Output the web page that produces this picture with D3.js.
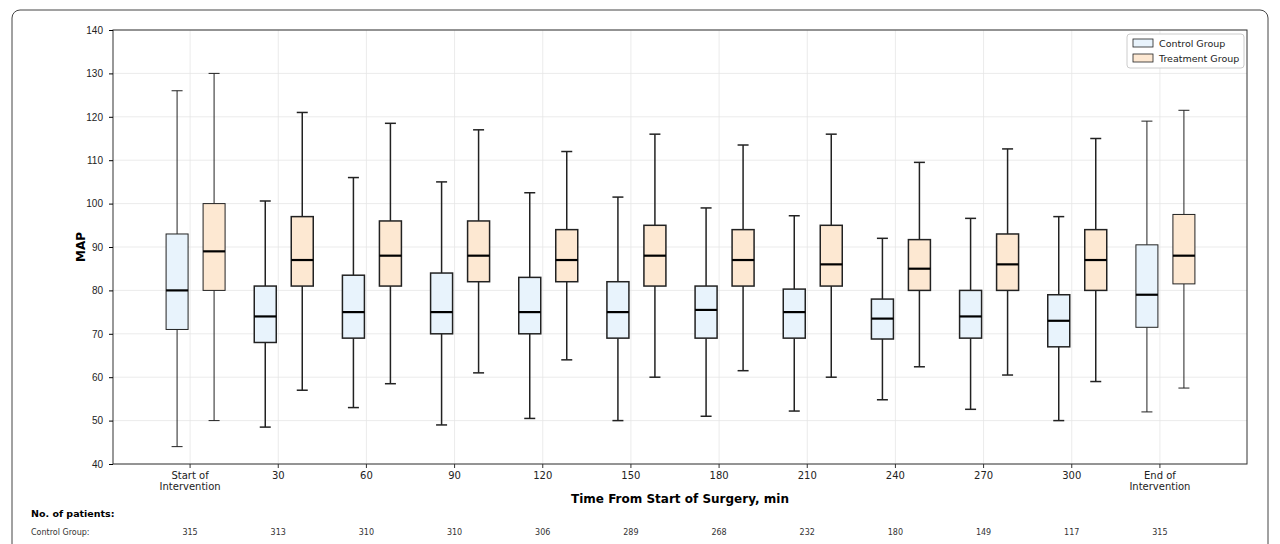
<!DOCTYPE html>
<html><head><meta charset="utf-8">
<script src="https://cdn.jsdelivr.net/npm/d3@7"></script>
<style>body{margin:0;background:#fff;font-family:"DejaVu Sans",sans-serif}</style>
</head><body><svg id="c" width="1280" height="544"></svg>
<script>
const categories = ['Start of\nIntervention','30','60','90','120','150','180','210','240','270','300','End of\nIntervention']
// [whiskerLow, q1, median, q3, whiskerHigh]
const control = [
  [44,71,80,93,126],[48.5,68,74,81,100.6],[53,69,75,83.5,106],[49,70,75,84,105],
  [50.5,70,75,83,102.5],[50,69,75,82,101.5],[51,69,75.5,81,99],[52.2,69,75,80.3,97.2],
  [54.8,68.8,73.5,78,92],[52.6,69,74,80,96.6],[50,67,73,79,97],[52,71.5,79,90.5,119]
]
const treatment = [
  [50,80,89,100,130],[57,81,87,97,121],[58.5,81,88,96,118.5],[61,82,88,96,117],
  [64,82,87,94,112],[60,81,88,95,116],[61.5,81,87,94,113.5],[60,81,86,95,116],
  [62.4,80,85,91.7,109.5],[60.5,80,86,93,112.6],[59,80,87,94,115],[57.5,81.5,88,97.5,121.5]
]
const patientsControl = [315,313,310,310,306,289,268,232,180,149,117,315]
const yTicks = [40,50,60,70,80,90,100,110,120,130,140]

const svg = d3.select('#c')
svg.append('rect').attr('x',12).attr('y',10).attr('width',1256).attr('height',560)
  .attr('rx',8).attr('fill','none').attr('stroke','#444').attr('stroke-width',1)

const L=113,R=1247,T=30,B=464
const x = d3.scaleBand().domain(d3.range(categories.length)).range([L+33,R-43]).paddingInner(0).paddingOuter(0)
const y = d3.scaleLinear().domain([40,140]).range([B,T])
const cx = i => x(i)+x.bandwidth()/2

const g = svg.append('g')
g.selectAll('.gy').data(yTicks).join('line').attr('x1',L).attr('x2',R)
  .attr('y1',d=>y(d)).attr('y2',d=>y(d)).attr('stroke','#e6e6e6').attr('stroke-width',0.8)
g.selectAll('.gx').data(categories).join('line').attr('y1',T).attr('y2',B)
  .attr('x1',(d,i)=>cx(i)).attr('x2',(d,i)=>cx(i)).attr('stroke','#e6e6e6').attr('stroke-width',0.8)

const bw = 22
function drawBoxes(data, dx, fill){
  data.forEach((d,i)=>{
    const c = cx(i)+dx, sw = (i===0||i===data.length-1)?1:1.5
    const s = g.append('g').attr('stroke','#222').attr('stroke-width',sw)
    s.append('line').attr('x1',c).attr('x2',c).attr('y1',y(d[0])).attr('y2',y(d[1]))
    s.append('line').attr('x1',c).attr('x2',c).attr('y1',y(d[3])).attr('y2',y(d[4]))
    s.append('line').attr('x1',c-bw/4).attr('x2',c+bw/4).attr('y1',y(d[0])).attr('y2',y(d[0]))
    s.append('line').attr('x1',c-bw/4).attr('x2',c+bw/4).attr('y1',y(d[4])).attr('y2',y(d[4]))
    s.append('rect').attr('x',c-bw/2).attr('width',bw).attr('y',y(d[3])).attr('height',y(d[1])-y(d[3])).attr('fill',fill)
    s.append('line').attr('x1',c-bw/2).attr('x2',c+bw/2).attr('y1',y(d[2])).attr('y2',y(d[2])).attr('stroke-width',2.2).attr('stroke','#000')
  })
}
drawBoxes(control,-13,'#e8f3fc')
drawBoxes(treatment,24,'#fde8d2')

g.append('rect').attr('x',L).attr('y',T).attr('width',R-L).attr('height',B-T).attr('fill','none').attr('stroke','#333').attr('stroke-width',1)

const ya = g.append('g').attr('transform',`translate(${L},0)`).call(d3.axisLeft(y).tickValues(yTicks).tickSize(4).tickPadding(6))
ya.select('.domain').remove()
ya.selectAll('text').attr('font-size',10).attr('fill','#222')
const xa = g.append('g')
categories.forEach((c,i)=>{
  xa.append('line').attr('x1',cx(i)).attr('x2',cx(i)).attr('y1',B).attr('y2',B+4).attr('stroke','#333')
  const t = xa.append('text').attr('x',cx(i)).attr('y',B+15).attr('text-anchor','middle').attr('font-size',10).attr('fill','#222')
  c.split('\n').forEach((ln,k)=>t.append('tspan').attr('x',cx(i)).attr('dy',k?11:0).text(ln))
})
svg.append('text').attr('x',(L+R)/2).attr('y',503).attr('text-anchor','middle').attr('font-size',12).attr('font-weight','bold').text('Time From Start of Surgery, min')
svg.append('text').attr('transform',`translate(85,${(T+B)/2}) rotate(-90)`).attr('text-anchor','middle').attr('font-size',12).attr('font-weight','bold').text('MAP')

svg.append('text').attr('x',31).attr('y',517).attr('font-size',9.5).attr('font-weight','bold').text('No. of patients:')
svg.append('text').attr('x',31).attr('y',535).attr('font-size',8).attr('fill','#333').text('Control Group:')
svg.selectAll('.pc').data(patientsControl).join('text').attr('x',(d,i)=>cx(i)).attr('y',535)
  .attr('text-anchor','middle').attr('font-size',8).attr('fill','#333').text(d=>d)

const lg = svg.append('g').attr('transform','translate(1127,34)')
lg.append('rect').attr('width',117).attr('height',34).attr('rx',3).attr('fill','#fff').attr('stroke','#ccc')
;[['Control Group','#e8f3fc'],['Treatment Group','#fde8d2']].forEach((d,i)=>{
  lg.append('rect').attr('x',6).attr('y',5+i*15).attr('width',20).attr('height',8).attr('fill',d[1]).attr('stroke','#222').attr('stroke-width',0.8)
  lg.append('text').attr('x',32).attr('y',12.5+i*15).attr('font-size',9.5).attr('fill','#222').text(d[0])
})
</script></body></html>
